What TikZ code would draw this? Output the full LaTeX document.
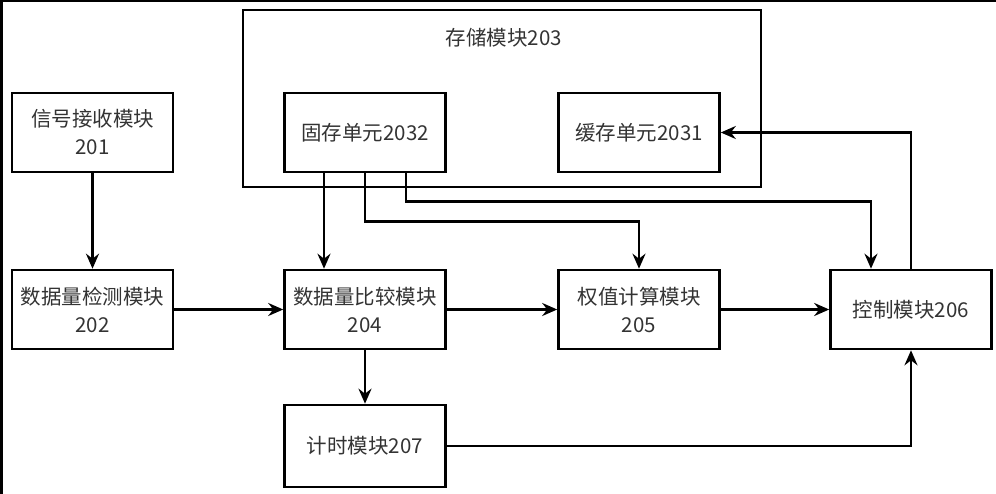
\documentclass[tikz,border=0pt]{standalone}
\usepackage{fontspec}
\setmainfont{Noto Sans CJK SC}
\usetikzlibrary{arrows.meta}
\tikzset{
	modbox/.style={draw, line width=2.6pt, minimum width=161pt, minimum height=79pt, inner sep=0pt, align=center, font=\fontsize{20.5}{28}\selectfont, text=black!80},
	flow/.style={line width=2.6pt, -{Stealth[length=15pt,width=13pt,inset=5pt]}},
}
\newcommand{\module}[3]{
	\node[modbox] (#1) at (#2) {#3};
}

\begin{document}
\begin{tikzpicture}[x=1pt,y=-1pt]
	\useasboundingbox (0,0) rectangle (996,494);
	\fill (0,0) rectangle (996,2);
	\fill (0,0) rectangle (3,494);
	\draw[line width=2.6pt] (243,10) rectangle (761,187);
	\node[font=\fontsize{20.5}{28}\selectfont, text=black!80] (storetitle) at (504,38) {存储模块203};
	\module{recv}{92.5,132.5}{信号接收模块\\201}
	\module{detect}{92.5,309.5}{数据量检测模块\\202}
	\module{fixed}{365,132.5}{固存单元2032}
	\module{cache}{639,132.5}{缓存单元2031}
	\module{compare}{365,309.5}{数据量比较模块\\204}
	\module{weight}{639,309.5}{权值计算模块\\205}
	\module{ctrl}{911,309.5}{控制模块206}
	\node[modbox, minimum height=82pt] (timer) at (365,446) {计时模块207};
	
	\draw[flow] (recv) -- (detect);
	\draw[flow] (detect) -- (compare);
	\draw[flow] (compare) -- (weight);
	\draw[flow] (weight) -- (ctrl);
	\draw[flow] (compare) -- (timer);
	\draw[flow] ([xshift=-41pt]fixed.south) -- ([xshift=-41pt]compare.north);
	\draw[flow] (fixed.south) -- ++(0,48) -| (weight.north);
	\draw[flow] ([xshift=41pt]fixed.south) -- ++(0,28) -| ([xshift=-40pt]ctrl.north);
	\draw[flow] (ctrl.north) |- (cache.east);
	\draw[flow] (timer.east) -| (ctrl.south);
\end{tikzpicture}
\end{document}
